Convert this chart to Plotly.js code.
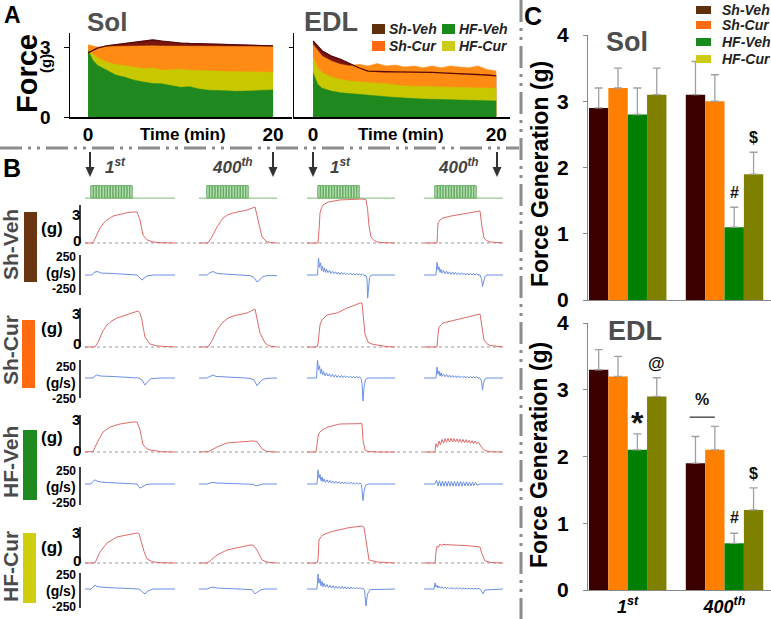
<!DOCTYPE html>
<html><head><meta charset="utf-8">
<script src="https://cdn.plot.ly/plotly-3.0.1.min.js"></script>
<style>html,body{margin:0;padding:0;background:#fff}#chart{width:771px;height:619px}</style>
</head><body><div id="chart"></div>
<script>
// ---------------- DATA ----------------
const groups = ['Sh-Veh', 'Sh-Cur', 'HF-Veh', 'HF-Cur'];
const barCats = ['1st', '400th'];
const barCatText = ['1<sup>st</sup>', '400<sup>th</sup>'];

// Panel A: force over time (min)
const aTime = [0, 0.5, 1, 2, 3, 4, 5, 6, 7, 8, 9, 10, 11, 12, 13, 14, 15, 16, 17, 18, 19, 20];
const aSolShVeh = [2.75, 2.85, 2.95, 3.05, 3.1, 3.15, 3.2, 3.27, 3.3, 3.25, 3.2, 3.17, 3.15, 3.14, 3.13, 3.12, 3.1, 3.08, 3.07, 3.07, 3.06, 3.05];
const aSolShCur = [3.1, 3.05, 3.0, 3.02, 3.03, 3.03, 3.04, 3.05, 3.05, 3.04, 3.04, 3.03, 3.03, 3.02, 3.03, 3.02, 3.02, 3.03, 3.02, 3.02, 3.03, 3.02];
const aSolHfCur = [2.86, 2.7, 2.55, 2.35, 2.25, 2.2, 2.14, 2.08, 2.1, 2.0, 2.03, 2.05, 2.0, 2.0, 1.98, 1.97, 1.95, 1.95, 1.93, 1.95, 1.94, 1.92];
const aSolHfVeh = [2.86, 2.45, 2.22, 2.0, 1.8, 1.7, 1.58, 1.5, 1.44, 1.42, 1.33, 1.27, 1.3, 1.2, 1.15, 1.12, 1.12, 1.1, 1.1, 1.12, 1.15, 1.16];
const aEdlShVeh = [3.26, 3.04, 2.83, 2.61, 2.47, 2.29, 2.11, 1.97, 1.94, 1.94, 1.93, 1.93, 1.92, 1.9, 1.91, 1.89, 1.87, 1.86, 1.85, 1.84, 1.8, 1.76];
const aEdlShCur = [3.11, 2.85, 2.61, 2.4, 2.26, 2.19, 2.26, 2.19, 2.29, 2.19, 2.23, 2.14, 2.19, 2.11, 2.19, 2.11, 2.19, 2.14, 2.11, 2.19, 2.04, 1.97];
const aEdlHfCur = [2.61, 2.11, 1.9, 1.71, 1.61, 1.54, 1.51, 1.47, 1.45, 1.43, 1.38, 1.33, 1.32, 1.3, 1.29, 1.29, 1.28, 1.27, 1.26, 1.26, 1.25, 1.23];
const aEdlHfVeh = [1.9, 1.4, 1.23, 1.11, 1.04, 1.0, 0.97, 0.93, 0.9, 0.87, 0.84, 0.8, 0.79, 0.77, 0.76, 0.74, 0.72, 0.71, 0.7, 0.7, 0.69, 0.69];
const aTimeTicks = [0, 20];

// Panel C: force generation (g), [1st, 400th]
const solShVeh = [2.9, 3.1], solShVehErr = [0.3, 0.5];
const solShCur = [3.2, 3.0], solShCurErr = [0.3, 0.4];
const solHfVeh = [2.8, 1.1], solHfVehErr = [0.4, 0.3];
const solHfCur = [3.1, 1.9], solHfCurErr = [0.4, 0.33];
const edlShVeh = [3.3, 1.9], edlShVehErr = [0.3, 0.4];
const edlShCur = [3.2, 2.1], edlShCurErr = [0.3, 0.35];
const edlHfVeh = [2.1, 0.7], edlHfVehErr = [0.24, 0.15];
const edlHfCur = [2.9, 1.2], edlHfCurErr = [0.28, 0.33];

// Panel B: stimulation pulses (ms) and twitch traces [time ms, value]
const stimPulseT = [10, 38, 66, 94, 122, 150, 178, 206, 234, 262, 290, 318, 346, 374, 400];
const stimAmp = 1;
// force (g)
const fSol1ShVeh = [[-60,0],[20,0],[50,0.6],[90,1.43],[130,1.95],[160,2.19],[220,2.57],[290,2.76],[360,2.88],[420,2.95],[460,2.95],[490,2.19],[520,0.76],[560,0.29],[620,0.1],[700,0.03],[840,0]];
const fSol400ShVeh = [[-80,0],[10,0],[50,0.6],[100,1.52],[160,2.38],[210,2.7],[260,2.86],[330,3.0],[400,3.14],[480,3.43],[510,2.19],[530,1.2],[550,0.57],[600,0.1],[700,0]];
const fEdl1ShVeh = [[-110,0],[0,0],[10,1.2],[20,2.86],[35,3.35],[50,3.62],[100,3.9],[220,4.1],[350,4.15],[450,4.19],[480,4.12],[495,3.3],[510,1.6],[530,0.57],[560,0.25],[590,0.1],[680,0.02],[770,0]];
const fEdl400ShVeh = [[-110,0],[20,0],[25,1.0],[30,1.9],[50,2.2],[80,2.38],[150,2.55],[220,2.67],[330,2.85],[430,3.05],[450,3.05],[470,1.52],[490,0.48],[520,0.2],[550,0.1],[680,0]];
const fSol1ShCur = [[-60,0],[40,0],[70,0.45],[90,0.95],[120,1.55],[160,2.1],[210,2.5],[260,2.76],[360,3.05],[420,3.25],[470,3.43],[490,3.2],[510,2.57],[525,1.7],[540,0.95],[590,0.29],[660,0.1],[840,0]];
const fSol400ShCur = [[-80,0],[10,0],[50,0.6],[100,1.62],[160,2.38],[210,2.75],[260,2.95],[330,3.1],[400,3.24],[480,3.62],[500,2.86],[515,2.0],[530,1.33],[580,0.38],[620,0.1],[700,0]];
const fEdl1ShCur = [[-110,0],[-10,0],[0,0.3],[10,1.62],[20,2.1],[40,2.57],[90,3.05],[190,3.24],[290,3.71],[360,3.95],[420,4.19],[440,4.19],[450,3.14],[470,1.24],[500,0.48],[530,0.3],[590,0.19],[680,0.05],[770,0]];
const fEdl400ShCur = [[-110,0],[20,0],[30,1.2],[40,1.9],[80,2.29],[150,2.45],[220,2.57],[320,2.86],[400,3.0],[450,3.14],[470,1.9],[490,0.67],[520,0.3],[550,0.15],[680,0]];
const fSol1HfVeh = [[-60,0],[0,0],[20,0.05],[60,0.86],[120,1.9],[190,2.38],[290,2.67],[420,2.86],[460,2.86],[490,2.1],[520,0.67],[560,0.3],[590,0.19],[700,0.03],[840,0]];
const fSol400HfVeh = [[-80,0],[0,0],[20,0.05],[50,0.2],[100,0.48],[200,0.86],[330,0.95],[460,1.05],[500,1.0],[530,0.6],[550,0.3],[600,0.05],[700,0]];
const fEdl1HfVeh = [[-110,0],[-20,0],[0,1.43],[10,1.8],[40,2.1],[100,2.38],[220,2.67],[420,2.76],[440,2.7],[450,1.14],[460,0.5],[470,0.19],[500,0.05],[600,0],[770,0]];
const fEdl400HfVeh = [[-110,0],[0,0],[10,0.8],[25,0.45],[40,1.05],[55,0.7],[70,1.2],[85,0.85],[100,1.28],[115,0.92],[130,1.3],[145,0.95],[160,1.3],[175,0.95],[190,1.28],[205,0.95],[220,1.25],[235,0.92],[250,1.22],[265,0.9],[280,1.2],[295,0.88],[310,1.18],[325,0.86],[340,1.12],[355,0.83],[370,1.08],[385,0.8],[400,1.05],[415,0.78],[430,0.95],[445,0.72],[470,0.4],[500,0.15],[550,0.03],[680,0]];
const fSol1HfCur = [[-60,0],[40,0],[90,1.05],[160,1.9],[260,2.48],[360,2.67],[460,2.86],[480,2.8],[510,1.81],[530,1.1],[560,0.38],[620,0.1],[720,0.02],[840,0]];
const fSol400HfCur = [[-80,0],[0,0],[20,0.1],[100,0.76],[200,1.24],[330,1.52],[430,1.71],[460,1.71],[500,1.24],[550,0.3],[600,0.08],[700,0]];
const fEdl1HfCur = [[-110,0],[-10,0],[0,0.3],[10,2.19],[30,2.5],[50,2.67],[120,2.95],[200,3.15],[290,3.33],[380,3.45],[440,3.52],[460,3.4],[475,2.5],[490,1.24],[510,0.29],[590,0.1],[680,0.03],[770,0]];
const fEdl400HfCur = [[-110,0],[0,0],[10,1.05],[20,1.62],[35,1.5],[50,1.81],[65,1.65],[80,1.78],[110,1.75],[200,1.72],[320,1.65],[430,1.55],[450,1.52],[470,0.86],[500,0.19],[560,0.05],[680,0]];
// force derivative (g/s)
const dSol1ShVeh = [[-60,0],[10,0],[30,40],[60,55],[80,45],[100,30],[200,25],[300,15],[400,8],[460,0],[490,-45],[510,-80],[530,-50],[560,-15],[620,0],[840,0]];
const dSol400ShVeh = [[-80,0],[0,0],[30,35],[60,55],[90,30],[130,20],[230,10],[330,0],[430,-10],[470,-40],[500,-110],[530,-70],[560,-25],[600,-10],[700,-10]];
const dEdl1ShVeh = [[-110,0],[-5,0],[5,265],[15,120],[25,190],[35,70],[45,140],[55,50],[65,110],[75,40],[85,90],[100,35],[115,75],[130,25],[145,60],[160,20],[175,50],[190,15],[205,45],[220,10],[235,40],[250,10],[265,35],[280,5],[295,30],[310,5],[325,30],[340,0],[355,25],[370,0],[385,25],[400,0],[415,20],[430,-5],[445,15],[460,-5],[480,-10],[490,-60],[497,-360],[505,-200],[515,-40],[530,-5],[560,0],[770,0]];
const dEdl400ShVeh = [[-110,0],[10,0],[20,200],[30,80],[40,130],[50,40],[60,90],[70,30],[85,70],[100,20],[115,60],[130,15],[145,50],[160,10],[175,45],[190,10],[205,40],[220,5],[235,35],[250,5],[265,35],[280,5],[295,30],[310,0],[325,30],[340,0],[355,25],[370,0],[385,25],[400,0],[415,20],[430,0],[450,0],[465,-60],[475,-180],[485,-90],[500,-20],[520,0],[680,0]];
const dSol1ShCur = [[-60,0],[20,0],[40,30],[60,50],[80,35],[100,30],[200,25],[300,15],[400,10],[480,0],[510,-30],[540,-110],[570,-50],[600,-10],[700,0],[840,0]];
const dSol400ShCur = [[-80,0],[0,0],[30,25],[60,45],[90,25],[130,20],[230,10],[330,5],[430,-5],[470,-30],[500,-120],[530,-60],[560,-20],[600,-5],[700,0]];
const dEdl1ShCur = [[-110,0],[-15,0],[-5,280],[5,130],[15,190],[25,70],[35,140],[45,50],[55,100],[70,35],[85,80],[100,30],[115,65],[130,20],[145,55],[160,15],[175,50],[190,10],[205,40],[220,10],[235,40],[250,5],[265,35],[280,5],[295,30],[310,5],[325,30],[340,0],[355,25],[370,0],[385,25],[400,0],[415,20],[430,-5],[440,-80],[450,-360],[460,-150],[475,-20],[500,0],[770,0]];
const dEdl400ShCur = [[-110,0],[10,0],[20,170],[30,60],[40,110],[50,30],[60,80],[70,25],[85,60],[100,20],[115,55],[130,15],[145,45],[160,10],[175,40],[190,10],[205,35],[220,5],[235,35],[250,5],[265,30],[280,5],[295,30],[310,0],[325,25],[340,0],[355,25],[370,0],[385,20],[400,0],[415,20],[430,0],[450,0],[465,-50],[475,-190],[485,-80],[500,-15],[520,0],[680,0]];
const dSol1HfVeh = [[-60,0],[0,0],[20,40],[40,65],[60,45],[100,30],[200,20],[300,10],[400,5],[460,0],[490,-65],[520,-40],[550,-10],[600,0],[840,0]];
const dSol400HfVeh = [[-80,0],[0,0],[30,15],[60,25],[100,15],[200,10],[300,5],[400,0],[460,-5],[490,-30],[520,-15],[560,0],[700,0]];
const dEdl1HfVeh = [[-110,0],[-10,0],[0,220],[10,90],[20,150],[30,50],[40,110],[50,35],[60,80],[75,25],[90,65],[105,20],[120,55],[135,15],[150,45],[165,10],[180,40],[195,10],[210,35],[225,5],[240,30],[255,5],[270,30],[285,0],[300,25],[315,0],[330,25],[345,0],[360,20],[375,0],[390,20],[405,0],[420,15],[435,-5],[450,-260],[460,-120],[475,-20],[500,0],[770,0]];
const dEdl400HfVeh = [[-110,0],[0,0],[15,60],[30,-30],[45,50],[60,-35],[75,45],[90,-35],[105,45],[120,-35],[135,45],[150,-35],[165,40],[180,-35],[195,40],[210,-35],[225,40],[240,-35],[255,40],[270,-35],[285,35],[300,-30],[315,35],[330,-30],[345,30],[360,-30],[375,30],[390,-25],[405,25],[420,-20],[450,0],[680,0]];
const dSol1HfCur = [[-60,0],[0,0],[20,30],[40,60],[60,40],[100,30],[200,20],[300,12],[400,5],[480,0],[510,-40],[540,-80],[570,-30],[620,0],[840,0]];
const dSol400HfCur = [[-80,0],[0,0],[30,20],[60,30],[100,15],[200,10],[300,5],[400,0],[450,-10],[480,-75],[510,-40],[540,-10],[580,0],[700,0]];
const dEdl1HfCur = [[-110,0],[-10,0],[0,235],[10,90],[20,160],[30,50],[40,120],[50,35],[60,90],[75,30],[90,70],[105,20],[120,60],[135,15],[150,50],[165,10],[180,45],[195,10],[210,40],[225,5],[240,40],[255,5],[270,35],[285,0],[300,30],[315,0],[330,30],[345,0],[360,25],[375,0],[390,25],[405,0],[420,20],[435,0],[450,15],[465,-20],[480,-265],[495,-80],[520,-10],[770,0]];
const dEdl400HfCur = [[-110,0],[-10,0],[0,95],[10,30],[20,60],[30,15],[40,45],[55,10],[70,35],[85,5],[100,30],[115,5],[130,25],[145,0],[160,25],[175,0],[190,20],[205,0],[220,20],[235,0],[250,20],[265,0],[280,15],[295,0],[310,15],[325,0],[340,15],[355,0],[370,10],[385,0],[400,10],[415,0],[430,10],[450,0],[465,-30],[480,-75],[500,-15],[680,0]];

// ---------------- BUILD ----------------
const W = 771, H = 619;
const F = '"Liberation Sans", Arial, Helvetica, sans-serif';
const xd = (a, b) => [a / W, b / W];
const yd = (top, bottom) => [1 - bottom / H, 1 - top / H];
const X = p => p / W, Y = p => 1 - p / H;

const forceRows = [
  [fSol1ShVeh, fSol400ShVeh, fEdl1ShVeh, fEdl400ShVeh],
  [fSol1ShCur, fSol400ShCur, fEdl1ShCur, fEdl400ShCur],
  [fSol1HfVeh, fSol400HfVeh, fEdl1HfVeh, fEdl400HfVeh],
  [fSol1HfCur, fSol400HfCur, fEdl1HfCur, fEdl400HfCur]];
const derivRows = [
  [dSol1ShVeh, dSol400ShVeh, dEdl1ShVeh, dEdl400ShVeh],
  [dSol1ShCur, dSol400ShCur, dEdl1ShCur, dEdl400ShCur],
  [dSol1HfVeh, dSol400HfVeh, dEdl1HfVeh, dEdl400HfVeh],
  [dSol1HfCur, dSol400HfCur, dEdl1HfCur, dEdl400HfCur]];

const traces = [];
// Panel A
function areaSet(xa, ya, shVeh, shCur, hfCur, hfVeh) {
  const base = {type: 'scatter', mode: 'lines', x: aTime, xaxis: xa, yaxis: ya, fill: 'tozeroy', hoverinfo: 'skip'};
  traces.push(Object.assign({}, base, {y: shVeh, fillcolor: '#7a1610', line: {color: '#7a1610', width: 0.5}}));
  traces.push(Object.assign({}, base, {y: shCur, fillcolor: '#ff8a14', line: {color: '#ff8a14', width: 0.5}}));
  traces.push(Object.assign({}, base, {y: hfCur, fillcolor: '#c8c800', line: {color: '#c8c800', width: 0.5}}));
  traces.push(Object.assign({}, base, {y: hfVeh, fillcolor: '#1f891f', line: {color: '#1f891f', width: 0.5}}));
  traces.push({type: 'scatter', mode: 'lines', x: aTime, y: shVeh, xaxis: xa, yaxis: ya, line: {color: '#5a0808', width: 1.3}, hoverinfo: 'skip'});
}
areaSet('x', 'y', aSolShVeh, aSolShCur, aSolHfCur, aSolHfVeh);
areaSet('x2', 'y2', aEdlShVeh, aEdlShCur, aEdlHfCur, aEdlHfVeh);

// Panel C
const barColors = ['#3d0000', '#ff8000', '#008000', '#808000'];
function barSet(xa, ya, vals, errs) {
  vals.forEach((v, i) => traces.push({
    type: 'bar', x: barCats, y: v, xaxis: xa, yaxis: ya, name: groups[i],
    marker: {color: barColors[i], line: {width: 0}},
    error_y: {type: 'data', array: errs[i], arrayminus: [0, 0], symmetric: false, color: '#a0a0a0', thickness: 1.3, width: 4},
    hoverinfo: 'skip'
  }));
}
barSet('x3', 'y3', [solShVeh, solShCur, solHfVeh, solHfCur], [solShVehErr, solShCurErr, solHfVehErr, solHfCurErr]);
barSet('x4', 'y4', [edlShVeh, edlShCur, edlHfVeh, edlHfCur], [edlShVehErr, edlShCurErr, edlHfVehErr, edlHfCurErr]);

// Panel B
const colDom = [[85, 175], [199, 277], [307, 395], [424, 503]];
const colRange = [[-60, 840], [-80, 700], [-110, 770], [-110, 680]];
const bF = [243, 347, 452, 563];
const bD = [275, 378, 484, 589];
const kF = 10.5, kD = 0.064;
for (let c = 0; c < 4; c++) {
  const xa = 'x' + (5 + c);
  traces.push({type: 'scatter', mode: 'lines', x: colRange[c], y: [0, 0], xaxis: xa, yaxis: 'y5', line: {color: '#7cbc72', width: 1}, hoverinfo: 'skip'});
  traces.push({type: 'bar', x: stimPulseT, y: stimPulseT.map(() => stimAmp), width: 24, xaxis: xa, yaxis: 'y5',
    marker: {color: '#b9dfb0', line: {color: '#5ea85e', width: 1}}, hoverinfo: 'skip'});
  for (let r = 0; r < 4; r++) {
    const f = forceRows[r][c], d = derivRows[r][c];
    traces.push({type: 'scatter', mode: 'lines', x: f.map(p => p[0]), y: f.map(p => p[1]), xaxis: xa, yaxis: 'y' + (6 + r), line: {color: '#e06a6a', width: 1}, hoverinfo: 'skip'});
    traces.push({type: 'scatter', mode: 'lines', x: d.map(p => p[0]), y: d.map(p => p[1]), xaxis: xa, yaxis: 'y' + (10 + r), line: {color: '#6b8fe8', width: 1}, hoverinfo: 'skip'});
  }
}

// ---------------- LAYOUT ----------------
const bold = s => '<b>' + s + '</b>';
const layout = {
  width: W, height: H, margin: {l: 0, r: 0, t: 0, b: 0},
  paper_bgcolor: '#fff', plot_bgcolor: 'rgba(0,0,0,0)', showlegend: false,
  barmode: 'group', bargap: 0.2, bargroupgap: 0,
  font: {family: F},
  xaxis: {domain: xd(70, 292), range: [-1.95, 22.05], anchor: 'y', showline: true, linecolor: '#000', linewidth: 1.5,
    showgrid: false, zeroline: false, tickmode: 'array', tickvals: aTimeTicks, ticktext: aTimeTicks.map(v => bold(v)), ticks: '',
    tickfont: {family: F, size: 19, color: '#000'}, fixedrange: true},
  yaxis: {domain: yd(33, 117), range: [0, 3.6], anchor: 'x', showline: true, linecolor: '#000', linewidth: 1.5,
    showgrid: false, zeroline: false, tickmode: 'array', tickvals: [0, 3], ticktext: [bold('0'), bold('3')], ticks: 'outside', ticklen: 5,
    tickcolor: '#000', tickfont: {family: F, size: 19, color: '#000'}, ticklabelstandoff: 9, fixedrange: true},
  xaxis2: {domain: xd(294, 510), range: [-2.08, 21.5], anchor: 'y2', showline: true, linecolor: '#000', linewidth: 1.5,
    showgrid: false, zeroline: false, tickmode: 'array', tickvals: aTimeTicks, ticktext: aTimeTicks.map(v => bold(v)), ticks: '',
    tickfont: {family: F, size: 19, color: '#000'}, fixedrange: true},
  yaxis2: {domain: yd(33, 117), range: [0, 3.6], anchor: 'x2', showline: true, linecolor: '#000', linewidth: 1.5,
    showgrid: false, zeroline: false, tickmode: 'array', tickvals: [3], showticklabels: false, ticks: 'outside', ticklen: 4, tickcolor: '#000', fixedrange: true},
  xaxis3: {domain: xd(588, 771), range: [-0.41, 1.48], anchor: 'y3', type: 'category', showline: true, linecolor: '#888', linewidth: 1,
    showticklabels: false, ticks: '', showgrid: false, zeroline: false, fixedrange: true},
  yaxis3: {domain: yd(35, 300), range: [0, 4], anchor: 'x3', showline: true, linecolor: '#888', linewidth: 1, ticks: 'outside', ticklen: 4,
    tickcolor: '#888', tickmode: 'array', tickvals: [0, 1, 2, 3, 4], ticktext: [0, 1, 2, 3, 4].map(v => bold(v)),
    tickfont: {family: F, size: 21, color: '#000'}, ticklabelstandoff: 10, showgrid: false, zeroline: false, fixedrange: true},
  xaxis4: {domain: xd(588, 771), range: [-0.41, 1.48], anchor: 'y4', type: 'category', showline: true, linecolor: '#888', linewidth: 1,
    tickmode: 'array', tickvals: barCats, ticktext: barCatText.map(s => '<b><i>' + s + '</i></b>'), ticks: '',
    tickfont: {family: F, size: 18, color: '#000'}, showgrid: false, zeroline: false, fixedrange: true},
  yaxis4: {domain: yd(323, 590), range: [0, 4], anchor: 'x4', showline: true, linecolor: '#888', linewidth: 1, ticks: 'outside', ticklen: 4,
    tickcolor: '#888', tickmode: 'array', tickvals: [0, 1, 2, 3, 4], ticktext: [0, 1, 2, 3, 4].map(v => bold(v)),
    tickfont: {family: F, size: 21, color: '#000'}, ticklabelstandoff: 10, showgrid: false, zeroline: false, fixedrange: true},
  yaxis5: {domain: yd(185, 200), range: [-0.15, 1.05], anchor: 'x5', visible: false, fixedrange: true}
};
for (let c = 0; c < 4; c++) {
  layout['xaxis' + (5 + c)] = {domain: xd(colDom[c][0], colDom[c][1]), range: colRange[c], anchor: 'y5', visible: false, fixedrange: true};
}
for (let r = 0; r < 4; r++) {
  layout['yaxis' + (6 + r)] = {domain: yd(bF[r] - 50, bF[r] + 4), range: [-4 / kF, 50 / kF], anchor: 'x5', visible: false, fixedrange: true};
  layout['yaxis' + (10 + r)] = {domain: yd(bD[r] - 30, bD[r] + 30), range: [-30 / kD, 30 / kD], anchor: 'x5', visible: false, fixedrange: true};
}

// shapes
const shapes = [];
const rectPx = (x0, y0, x1, y1, col) => shapes.push({type: 'rect', xref: 'paper', yref: 'paper', x0: X(x0), x1: X(x1), y0: Y(y0), y1: Y(y1), fillcolor: col, line: {width: 0}});
const linePx = (x0, y0, x1, y1, col, w, dash) => shapes.push({type: 'line', xref: 'paper', yref: 'paper', x0: X(x0), x1: X(x1), y0: Y(y0), y1: Y(y1), line: {color: col, width: w, dash: dash || 'solid'}});
// separators
linePx(0, 148, 519, 148, '#8c8c8c', 3, '22px,6px,3px,6px,3px,6px');
linePx(521, 0, 521, 619, '#8c8c8c', 3, '22px,6px,3px,6px,3px,6px');
// legend swatches
const legCol = ['#5e300c', '#ff6a13', '#1a8a1a', '#cccc14'];
rectPx(372, 24, 385, 34, legCol[0]); rectPx(442, 24, 455, 34, legCol[2]);
rectPx(372, 41, 385, 51, legCol[1]); rectPx(442, 41, 455, 51, legCol[3]);
const cLegY = [10, 25, 42, 59];
cLegY.forEach((y, i) => rectPx(696, y - 4, 711, y + 4, legCol[i]));
// B: arrows (down)
[90, 273, 313, 497].forEach(x => {
  linePx(x, 152, x, 169, '#333', 2);
  shapes.push({type: 'path', xref: 'paper', yref: 'paper', fillcolor: '#333', line: {width: 0},
    path: `M ${X(x - 4.5)} ${Y(167)} L ${X(x + 4.5)} ${Y(167)} L ${X(x)} ${Y(177)} Z`});
});
// B: row bars, axis lines, zero lines
const rowBars = [[24, 212, 37, 282], [22, 320, 35, 388], [23, 430, 37, 500], [23, 533, 36, 603]];
const rowBarCol = ['#6a3511', '#ff6a10', '#1f8a1f', '#cfcf10'];
const fAxis = [[205, 243], [308, 347], [415, 453], [527, 563]];
const dAxis = [[255, 295], [360, 398], [467, 505], [573, 608]];
for (let r = 0; r < 4; r++) {
  rectPx(rowBars[r][0], rowBars[r][1], rowBars[r][2], rowBars[r][3], rowBarCol[r]);
  linePx(80, fAxis[r][0], 80, fAxis[r][1], '#000', 1.5);
  linePx(80, dAxis[r][0], 80, dAxis[r][1], '#000', 1.5);
  shapes.push({type: 'line', xref: 'paper', yref: 'y' + (6 + r), x0: X(85), x1: X(505), y0: 0, y1: 0, layer: 'below', line: {color: '#9a9a9a', width: 1, dash: 'dot'}});
}
// % bracket in C EDL
shapes.push({type: 'line', xref: 'x4', yref: 'y4', x0: 0.64, x1: 0.9, y0: 2.59, y1: 2.59, line: {color: '#000', width: 1}});
layout.shapes = shapes;

// annotations
const ann = [];
const A = (x, y, text, size, o = {}) => ann.push({xref: 'paper', yref: 'paper', x: X(x), y: Y(y), text, showarrow: false,
  font: {family: F, size, color: o.color || '#000'}, xanchor: o.xa || 'center', yanchor: 'middle', align: o.align || 'center',
  textangle: o.angle || 0, borderpad: 0});
A(12, 15, bold('A'), 23); A(12, 168, bold('B'), 25); A(533, 16, bold('C'), 25);
A(107, 22, bold('Sol'), 26, {color: '#505050'}); A(331, 22, bold('EDL'), 27, {color: '#505050'});
A(27, 74, bold('Force'), 29, {angle: -90}); A(46, 64, bold('(g)'), 15, {angle: -90});
A(183, 134, bold('Time (min)'), 17); A(401, 134, bold('Time (min)'), 17);
A(388, 29, '<b><i>Sh-Veh</i></b>', 14, {xa: 'left', color: '#222'}); A(458, 29, '<b><i>HF-Veh</i></b>', 14, {xa: 'left', color: '#222'});
A(388, 46, '<b><i>Sh-Cur</i></b>', 14, {xa: 'left', color: '#222'}); A(458, 46, '<b><i>HF-Cur</i></b>', 14, {xa: 'left', color: '#222'});
groups.forEach((g, i) => A(721, cLegY[i], '<b><i>' + g + '</i></b>', 14, {xa: 'left', color: '#222'}));
A(627, 42, bold('Sol'), 27, {color: '#4d4d4d'}); A(635, 331, bold('EDL'), 27, {color: '#4d4d4d'});
A(540, 174, bold('Force Generation (g)'), 23, {angle: -90}); A(539, 455, bold('Force Generation (g)'), 23, {angle: -90});
// B headers
const hdr = [[115, '1<sup>st</sup>'], [232, '400<sup>th</sup>'], [340, '1<sup>st</sup>'], [458, '400<sup>th</sup>']];
hdr.forEach(h => A(h[0], 166, '<b><i>' + h[1] + '</i></b>', 17, {color: '#444'}));
// B row labels and scales
const rowLabY = [245, 350, 462, 567];
const f3Y = [215, 313, 420, 532], f0Y = [240, 343, 450, 560], fgY = [229, 328, 437, 547];
const dScaleY = [273, 383, 487, 591];
for (let r = 0; r < 4; r++) {
  A(10, rowLabY[r], bold(groups[r]), 21, {angle: -90, color: '#4a4a4a'});
  A(76, f3Y[r], bold('3'), 15); A(77, f0Y[r], bold('0'), 15); A(52, fgY[r], bold('(g)'), 17);
  A(77, dScaleY[r] - 16, bold('250'), 12, {xa: 'right'});
  A(77, dScaleY[r], bold('(g/s)'), 14, {xa: 'right'});
  A(77, dScaleY[r] + 16, bold('-250'), 12, {xa: 'right'});
}
// significance marks (data coordinates)
const D = (xr, yr, x, y, text, size) => ann.push({xref: xr, yref: yr, x, y, text, showarrow: false, font: {family: F, size, color: '#111'}, xanchor: 'center', yanchor: 'middle'});
D('x3', 'y3', 1.1, 1.62, bold('#'), 16); D('x3', 'y3', 1.3, 2.46, bold('$'), 16);
D('x4', 'y4', 0.1, 2.5, bold('*'), 32); D('x4', 'y4', 0.3, 3.4, bold('@'), 17);
D('x4', 'y4', 0.77, 2.85, bold('%'), 16); D('x4', 'y4', 1.1, 1.09, bold('#'), 16); D('x4', 'y4', 1.3, 1.75, bold('$'), 16);
layout.annotations = ann;

Plotly.newPlot('chart', traces, layout, {staticPlot: true, displayModeBar: false});
</script></body></html>
